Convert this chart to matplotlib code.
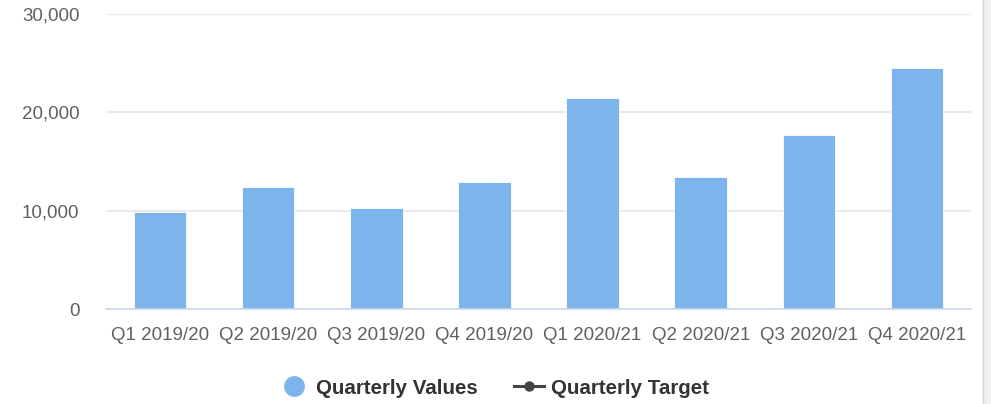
import matplotlib.pyplot as plt
from matplotlib.lines import Line2D
from matplotlib.patches import Rectangle
from matplotlib.ticker import FuncFormatter

plt.rcParams["font.family"] = ["Liberation Sans", "DejaVu Sans"]

quarters = ["Q1 2019/20", "Q2 2019/20", "Q3 2019/20", "Q4 2019/20",
            "Q1 2020/21", "Q2 2020/21", "Q3 2020/21", "Q4 2020/21"]
quarterly_values = [9900, 12400, 10250, 12900, 21450, 13430, 17700, 24500]
quarterly_target = []  # no target points shown

W, H = 991, 404
fig = plt.figure(figsize=(W / 100, H / 100), dpi=100)
ax = fig.add_axes([106 / W, 95 / H, 865 / W, 295 / H])

x = range(len(quarters))
ax.bar(x, quarterly_values, width=0.485, color="#7cb5ec",
       edgecolor="#ffffff", linewidth=0.6, zorder=3, label="Quarterly Values")
ax.plot(range(len(quarterly_target)), quarterly_target, color="#434348",
        marker="o", label="Quarterly Target")

ax.set_xlim(-0.5, len(quarters) - 0.5)
ax.set_ylim(0, 30000)
ax.set_yticks([0, 10000, 20000, 30000])
ax.yaxis.set_major_formatter(FuncFormatter(lambda v, p: f"{int(v):,}"))
ax.set_xticks(list(x))
ax.set_xticklabels(quarters)

ax.grid(axis="y", color="#e6e6e6", linewidth=1.2, zorder=0)
for s in ["top", "right", "left"]:
    ax.spines[s].set_visible(False)
ax.spines["bottom"].set_color("#ccd6eb")
ax.spines["bottom"].set_linewidth(1.2)
ax.spines["bottom"].set_zorder(4)

ax.tick_params(axis="x", length=0, pad=13, labelsize=13.5, labelcolor="#606060")
ax.tick_params(axis="y", length=0, pad=19, labelsize=13.5, labelcolor="#606060")
for lbl in ax.get_yticklabels():
    lbl.set_verticalalignment("center_baseline")

handles = [
    Line2D([], [], linestyle="none", marker="o", markersize=14,
           markerfacecolor="#7cb5ec", markeredgecolor="#7cb5ec"),
    Line2D([], [], color="#434348", linewidth=2.2, marker="o", markersize=6.5),
]
fig.legend(handles, ["Quarterly Values", "Quarterly Target"],
           loc="center", bbox_to_anchor=(494 / W, 1 - 388 / H), ncol=2,
           frameon=False, handlelength=1.45, handletextpad=0.35,
           columnspacing=1.75, prop={"weight": "bold", "size": 14.8},
           labelcolor="#333333")

# right-side panel border
fig.patches.append(Rectangle((982 / W, 0), 9 / W, 1, transform=fig.transFigure,
                             facecolor="#f0f0f0", edgecolor="none"))
fig.add_artist(Line2D([982.5 / W, 982.5 / W], [0, 1], transform=fig.transFigure,
                      color="#d9d9d9", linewidth=1))

fig.savefig("out.png", dpi=100, facecolor="white")
